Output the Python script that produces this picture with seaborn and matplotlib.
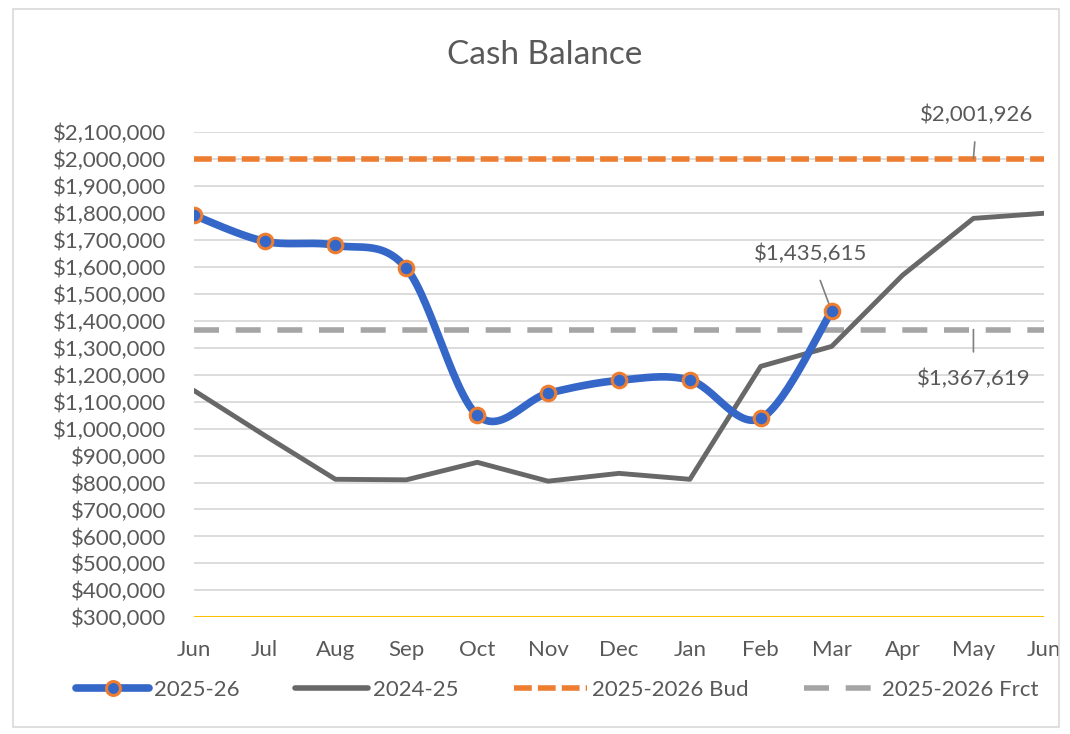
import numpy as np
import pandas as pd
import matplotlib.pyplot as plt
import seaborn as sns
from matplotlib.lines import Line2D
from matplotlib.patches import Rectangle
from matplotlib.ticker import FuncFormatter

sns.set_theme(style="white")
plt.rcParams['font.family'] = ['Lato', 'DejaVu Sans']

# data
months = ["Jun", "Jul", "Aug", "Sep", "Oct", "Nov", "Dec", "Jan", "Feb", "Mar", "Apr", "May", "Jun"]
cur_year = [1792000, 1695000, 1680000, 1595000, 1050000, 1131000, 1179000, 1180000, 1038000, 1435615]
prev_year = [1142000, 975000, 812000, 810000, 875000, 805000, 834000, 812000, 1231000, 1305000, 1569000, 1780000, 1799000]
budget = 2001926
forecast = 1367619

BLUE = "#3467C8"
ORANGE = "#ED7D31"
GRAY = "#686868"
LIGHT = "#A5A5A5"
TXT = "#595959"
FS = 16


def smooth(y, n=30):
    # Excel-style smoothed line (Bezier through the points)
    x = np.arange(len(y), dtype=float)
    p = np.column_stack([x, np.asarray(y, dtype=float)])
    p = np.vstack([p[0], p, p[-1]])
    out = []
    for i in range(1, len(p) - 2):
        p0, p1, p2, p3 = p[i - 1], p[i], p[i + 1], p[i + 2]
        c1 = p1 + (p2 - p0) / 6
        c2 = p2 - (p3 - p1) / 6
        t = np.linspace(0, 1, n)[:, None]
        seg = (1 - t) ** 3 * p1 + 3 * (1 - t) ** 2 * t * c1 + 3 * (1 - t) * t ** 2 * c2 + t ** 3 * p2
        out.append(seg)
    return np.vstack(out)


fig = plt.figure(figsize=(10.7, 7.34), dpi=100)
ax = fig.add_axes([0.181, 0.159, 0.795, 0.661])

ax.set_ylim(300000, 2100000)
ax.set_xlim(0, 12)
ax.set_yticks(range(300000, 2100001, 100000))
ax.yaxis.set_major_formatter(FuncFormatter(lambda v, _: f"${v:,.0f}"))
ax.set_xticks(range(len(months)))
ax.set_xticklabels(months)
ax.grid(axis='y', color="#D9D9D9", lw=1.3)
for s in ax.spines.values():
    s.set_visible(False)
ax.axhline(300000, color="#FFC000", lw=2.2, zorder=2)
ax.tick_params(axis='both', length=0, labelsize=FS, colors=TXT)
ax.tick_params(axis='y', pad=20)
ax.tick_params(axis='x', pad=16)

# reference lines
ax.axhline(budget, color=ORANGE, lw=4, ls=(0, (3.2, 1.1)), zorder=3)
ax.axhline(forecast, color=LIGHT, lw=4, ls=(0, (4.5, 3)), zorder=3)

# last year
df_prev = pd.DataFrame({"x": range(len(prev_year)), "y": prev_year})
sns.lineplot(data=df_prev, x="x", y="y", color=GRAY, lw=3.5, ax=ax, zorder=4)

# this year, smoothed
sm = smooth(cur_year)
sns.lineplot(x=sm[:, 0], y=sm[:, 1], color=BLUE, lw=5.5, ax=ax, sort=False, zorder=5)
df_cur = pd.DataFrame({"x": range(len(cur_year)), "y": cur_year})
sns.scatterplot(data=df_cur, x="x", y="y", s=110, color=BLUE, edgecolor=ORANGE, linewidth=2.2, ax=ax, zorder=6)
ax.set_xlabel("")
ax.set_ylabel("")

# data labels
ax.annotate(f"${budget:,.0f}", xy=(11, budget), xytext=(11.05, 2165000), ha='center', va='center',
            fontsize=FS, color=TXT, annotation_clip=False,
            arrowprops=dict(arrowstyle='-', color="#7F7F7F", lw=1.2, shrinkA=10, shrinkB=0))
ax.annotate(f"${cur_year[-1]:,.0f}", xy=(9, cur_year[-1]), xytext=(8.7, 1648000), ha='center', va='center',
            fontsize=FS, color=TXT,
            arrowprops=dict(arrowstyle='-', color="#7F7F7F", lw=1.2, shrinkA=10, shrinkB=4))
ax.annotate(f"${forecast:,.0f}", xy=(11, forecast), xytext=(11.0, 1183000), ha='center', va='center',
            fontsize=FS, color=TXT,
            arrowprops=dict(arrowstyle='-', color="#7F7F7F", lw=1.2, shrinkA=10, shrinkB=0))

fig.text(545 / 1070, 1 - 55 / 734, "Cash Balance", ha='center', va='center', fontsize=24, color=TXT)

handles = [
    Line2D([], [], color=BLUE, lw=5.5, marker='o', markersize=10, markerfacecolor=BLUE,
           markeredgecolor=ORANGE, markeredgewidth=2.2),
    Line2D([], [], color=GRAY, lw=4),
    Line2D([], [], color=ORANGE, lw=4, ls=(0, (3.2, 1.1))),
    Line2D([], [], color=LIGHT, lw=4, ls=(0, (4.5, 3))),
]
labels = ["2025-26", "2024-25", "2025-2026 Bud", "2025-2026 Frct"]
fig.legend(handles, labels, loc='center', bbox_to_anchor=(557 / 1070, 1 - 690 / 734), ncol=4, frameon=False,
           handlelength=3.3, columnspacing=2.5, handletextpad=0.2, fontsize=FS, labelcolor=TXT)

fig.patches.append(Rectangle((0.012, 0.01), 0.978, 0.978, transform=fig.transFigure,
                             fill=False, edgecolor="#D9D9D9", lw=1.2))

fig.savefig("out.png", dpi=100)
